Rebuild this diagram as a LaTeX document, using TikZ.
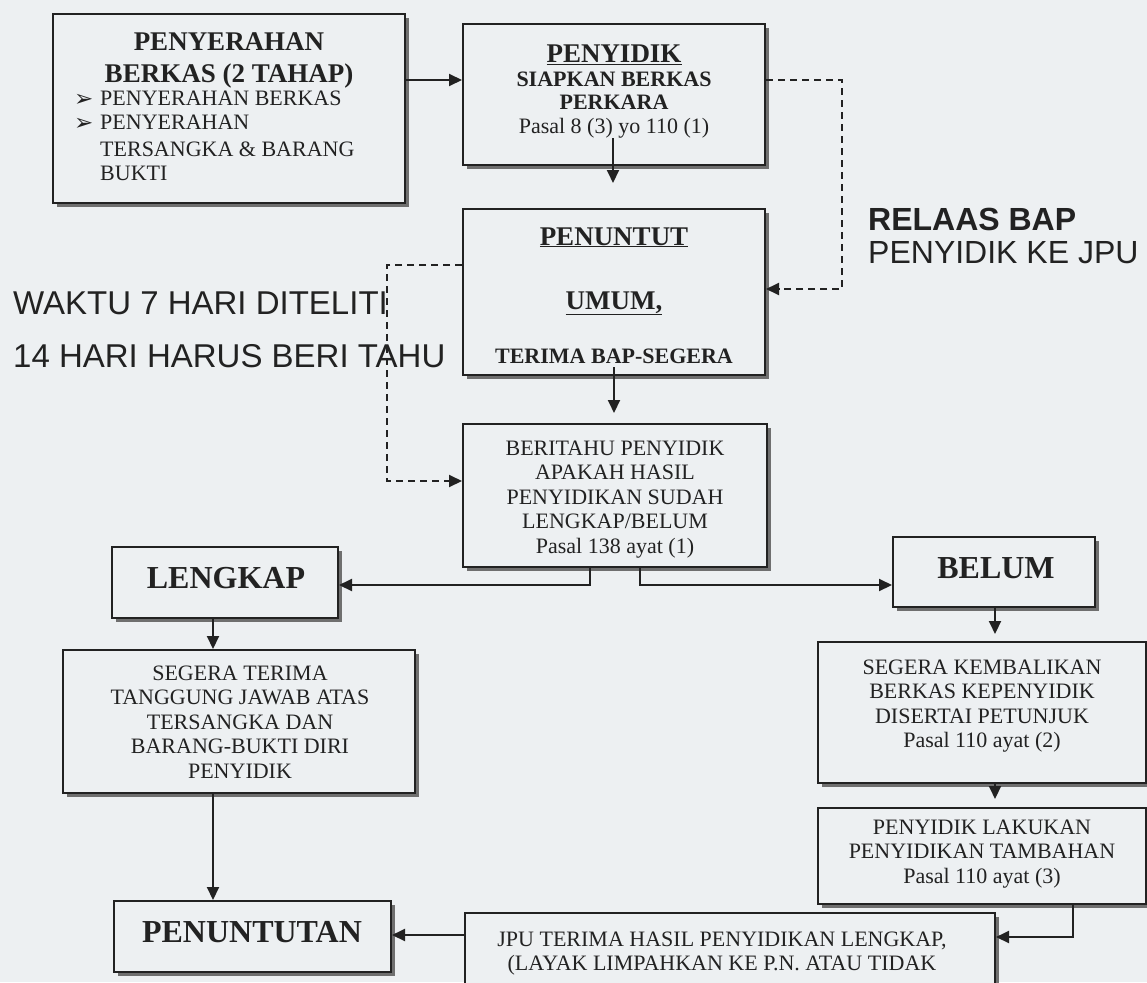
\documentclass[tikz,border=0pt]{standalone}
\usepackage{fontspec}
\setmainfont{Liberation Serif}
\newfontfamily\sansfnt{Liberation Sans}
\newfontfamily\symfnt{DejaVu Sans}
\usetikzlibrary{arrows.meta,shadows}
\definecolor{paper}{HTML}{EDF0F2}
\definecolor{ink}{HTML}{222222}
\tikzset{
  box/.style={draw=ink, line width=2pt, fill=paper, inner sep=0pt, rectangle,
    drop shadow={shadow xshift=4pt, shadow yshift=-4pt, fill=black!65, opacity=0.85}},
  conn/.style={draw=ink, line width=2pt, -{Triangle[length=13pt,width=12pt]}},
  dconn/.style={conn, dash pattern=on 7pt off 5pt},
  txt/.style={anchor=base, inner sep=0pt, text=ink},
  big/.style={font=\fontsize{32pt}{36pt}\selectfont\bfseries},
  head/.style={font=\fontsize{27pt}{30pt}\selectfont\bfseries},
  sub/.style={font=\fontsize{22pt}{24.5pt}\selectfont\bfseries},
  body/.style={font=\fontsize{22pt}{24.5pt}\selectfont, align=center},
  plain/.style={font=\fontsize{22pt}{24.5pt}\selectfont},
  bullet/.style={txt, anchor=base west, font=\symfnt\fontsize{23pt}{24pt}\selectfont},
  side/.style={anchor=base west, inner sep=0pt, text=ink,
    font=\sansfnt\fontsize{33pt}{36pt}\selectfont},
  sidebold/.style={side, font=\sansfnt\fontsize{32pt}{36pt}\selectfont\bfseries},
}
\begin{document}
\begin{tikzpicture}[x=1pt,y=-1pt]
\clip (0,0) rectangle (1147,982);
\fill[paper] (0,0) rectangle (1147,982);

% ---- boxes ----
\node[box, minimum width=352pt, minimum height=189pt] (pen) at (229,108.5) {};
\node[box, minimum width=302pt, minimum height=141pt] (pdk) at (614,94.5) {};
\node[box, minimum width=302pt, minimum height=166pt] (ju)  at (614,292) {};
\node[box, minimum width=304pt, minimum height=143pt] (brt) at (615,495.5) {};
\node[box, minimum width=226pt, minimum height=71pt]  (lkp) at (225,582.5) {};
\node[box, minimum width=202pt, minimum height=70pt]  (blm) at (994,572) {};
\node[box, minimum width=352pt, minimum height=143pt] (stt) at (239,721.5) {};
\node[box, minimum width=328pt, minimum height=141pt] (skb) at (982,712.5) {};
\node[box, minimum width=328pt, minimum height=96pt]  (plk) at (982,856) {};
\node[box, minimum width=277pt, minimum height=71pt]  (pnt) at (252.5,936.5) {};
\node[box, minimum width=530pt, minimum height=94pt]  (jpu) at (730,960) {};

% ---- box texts (multi-line nodes sit on the baseline of their last line) ----
\node[txt, head] (penA) at (229,51) {PENYERAHAN};
\node[txt, head] (penB) at (229,82) {BERKAS (2 TAHAP)};
\node[bullet] (penM1) at (74,106) {➢};
\node[bullet] (penM2) at (74,130) {➢};
\node[txt, plain, anchor=base west] (penC) at (100,105) {PENYERAHAN BERKAS};
\node[txt, plain, anchor=base west] (penD) at (100,129) {PENYERAHAN};
\node[txt, plain, anchor=base west] (penE) at (100,156) {TERSANGKA \& BARANG};
\node[txt, plain, anchor=base west] (penF) at (100,180) {BUKTI};

\node[txt, head] (pdkA) at (614,63) {\underline{PENYIDIK}};
\node[txt, sub]  (pdkB) at (614,86) {SIAPKAN BERKAS};
\node[txt, sub]  (pdkC) at (614,109) {PERKARA};
\node[txt, plain] (pdkD) at (614,133) {Pasal 8 (3) yo 110 (1)};

\node[txt, head] (juA) at (614,245) {\underline{PENUNTUT}};
\node[txt, head] (juB) at (614,309) {\underline{UMUM,}};
\node[txt, sub]  (juC) at (614,363) {TERIMA BAP-SEGERA};

\node[txt, body] (brtT) at (615,553) {BERITAHU PENYIDIK\\APAKAH HASIL\\PENYIDIKAN SUDAH\\LENGKAP/BELUM\\Pasal 138 ayat (1)};
\node[txt, big] (lkpT) at (226,588) {LENGKAP};
\node[txt, big] (blmT) at (996,578) {BELUM};
\node[txt, body] (sttT) at (240,778) {SEGERA TERIMA\\TANGGUNG JAWAB ATAS\\TERSANGKA DAN\\BARANG-BUKTI DIRI\\PENYIDIK};
\node[txt, body] (skbT) at (982,747.5) {SEGERA KEMBALIKAN\\BERKAS KEPENYIDIK\\DISERTAI PETUNJUK\\Pasal 110 ayat (2)};
\node[txt, body] (plkT) at (982,883) {PENYIDIK LAKUKAN\\PENYIDIKAN TAMBAHAN\\Pasal 110 ayat (3)};
\node[txt, big] (pntT) at (252,942) {PENUNTUTAN};
\node[txt, body] (jpuT) at (722,970.5) {JPU TERIMA HASIL PENYIDIKAN LENGKAP,\\(LAYAK LIMPAHKAN KE P.N. ATAU TIDAK};

% ---- free-standing notes ----
\node[side] (w1) at (13,314) {WAKTU 7 HARI DITELITI};
\node[side] (w2) at (13,367) {14 HARI HARUS BERI TAHU};
\node[sidebold] (r1) at (868,230) {RELAAS BAP};
\node[side, font=\sansfnt\fontsize{32pt}{36pt}\selectfont] (r2) at (868,263) {PENYIDIK KE JPU};

% ---- routing points ----
\coordinate (a1) at (0,80);
\coordinate (a2s) at (613,138);
\coordinate (a2e) at (613,183);
\coordinate (a3s) at (614,367);
\coordinate (a3e) at (614,413);
\coordinate (d1) at (842,289);
\coordinate (d2) at (387,265);
\coordinate (d3) at (387,481);
\coordinate (c5) at (590,585);
\coordinate (c6) at (640,585);
\coordinate (c7) at (213,0);
\coordinate (c8) at (995,0);
\coordinate (c9) at (1073,937);
\coordinate (c10) at (0,935);

% ---- connectors ----
\draw[conn] (pen.east |- a1) -- (pdk.west |- a1);
\draw[conn] (a2s) -- (a2e);
\draw[dconn] (pdk.east |- a1) -| (d1) -- (ju.east |- d1);
\draw[dconn] (ju.west |- d2) -- (d2) -- (d3) -- (brt.west |- d3);
\draw[conn] (a3s) -- (a3e);
\draw[conn] (brt.south -| c5) -- (c5) -- (lkp.east |- c5);
\draw[conn] (brt.south -| c6) -- (c6) -- (blm.west |- c6);
\draw[conn] (lkp.south -| c7) -- (stt.north -| c7);
\draw[conn] (stt.south -| c7) -- (pnt.north -| c7);
\draw[conn, shorten >=7pt] (blm.south -| c8) -- (skb.north -| c8);
\draw[conn, shorten >=8pt] (skb.south -| c8) -- (plk.north -| c8);
\draw[conn] (plk.south -| c9) -- (c9) -- (jpu.east |- c9);
\draw[conn] (jpu.west |- c10) -- (pnt.east |- c10);
\end{tikzpicture}
\end{document}
